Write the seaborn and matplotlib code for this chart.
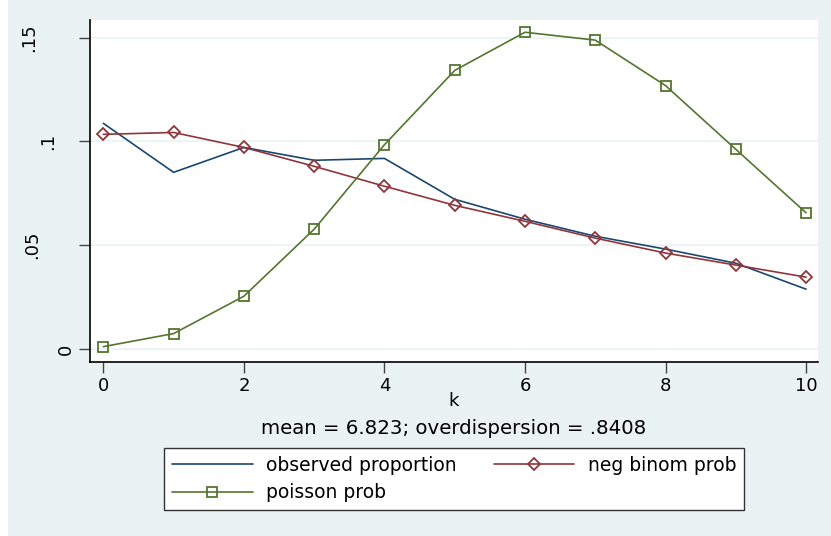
import numpy as np
import pandas as pd
import matplotlib
matplotlib.use('Agg')
import matplotlib.pyplot as plt
import matplotlib.transforms as mtransforms
import seaborn as sns

# %% data
k = list(range(11))
observed = [0.1087, 0.0851, 0.0971, 0.0909, 0.0918, 0.0721, 0.0625, 0.0543, 0.0481, 0.0413, 0.0288]
negbin = [0.1034, 0.1043, 0.0971, 0.0880, 0.0784, 0.0692, 0.0615, 0.0534, 0.0462, 0.0404, 0.0346]
poisson = [0.0011, 0.0074, 0.0254, 0.0577, 0.0984, 0.1342, 0.1526, 0.1488, 0.1269, 0.0962, 0.0656]
y_ticks = [0, 0.05, 0.1, 0.15]
y_labels = ['0', '.05', '.1', '.15']
x_ticks = [0, 2, 4, 6, 8, 10]
note = 'mean = 6.823; overdispersion = .8408'

df = pd.DataFrame({'k': k, 'observed proportion': observed,
                   'neg binom prob': negbin, 'poisson prob': poisson})

# %% plot
sns.set_style('white')
plt.rcParams['font.family'] = ['DejaVu Sans']
plt.rcParams['text.color'] = 'black'
plt.rcParams['xtick.color'] = 'black'
plt.rcParams['ytick.color'] = 'black'
plt.rcParams['axes.labelcolor'] = 'black'

bg = '#eaf2f3'
blue, red, green = '#1a476f', '#90353b', '#55752f'

fig = plt.figure(figsize=(8.31, 5.36), dpi=100, facecolor=bg)
# white strip at the left edge, like the stata export
fig.patches.append(plt.Rectangle((0, 0), 8 / 831, 1, transform=fig.transFigure,
                                 facecolor='white', edgecolor='none', zorder=-1))
ax = fig.add_axes([90 / 831, 1 - 362 / 536, (818 - 90) / 831, (362 - 20) / 536])
ax.set_facecolor('white')

sns.lineplot(data=df, x='k', y='observed proportion', color=blue, lw=1.2, ax=ax,
             label='observed proportion')
sns.lineplot(data=df, x='k', y='neg binom prob', color=red, lw=1.2, ax=ax,
             marker='D', markersize=6.5, markerfacecolor='none', markeredgecolor=red,
             markeredgewidth=1.3, label='neg binom prob')
sns.lineplot(data=df, x='k', y='poisson prob', color=green, lw=1.2, ax=ax,
             marker='s', markersize=7, markerfacecolor='none', markeredgecolor=green,
             markeredgewidth=1.3, label='poisson prob')

ax.set_xlim(-0.19, 10.17)
ax.set_ylim(-0.0063, 0.1585)
ax.set_yticks(y_ticks)
ax.set_yticklabels(y_labels, rotation=90, va='center', ha='center', fontsize=13)
ax.set_xticks(x_ticks)
ax.set_xticklabels([str(t) for t in x_ticks], fontsize=13)
ax.tick_params(axis='both', direction='out', length=8, width=1,
               left=True, bottom=True)
ax.tick_params(axis='both', color='#444444')
ax.tick_params(axis='x', pad=3)
ax.tick_params(axis='y', pad=0)
# stata places rotated labels unevenly; shift each one (pixels, left is negative)
label_shift = [-13, -47, -31, -50]
for lab, dx in zip(ax.get_yticklabels(), label_shift):
    lab.set_transform(lab.get_transform() +
                      mtransforms.ScaledTranslation(dx / 100, 0, fig.dpi_scale_trans))
ax.set_xlabel('k', fontsize=13, labelpad=-2)
ax.set_ylabel('')
for y in y_ticks:
    ax.axhline(y, color=bg, lw=1.2, zorder=0)
for side in ['top', 'right']:
    ax.spines[side].set_visible(False)
for side in ['left', 'bottom']:
    ax.spines[side].set_color('black')
    ax.spines[side].set_linewidth(1.2)

fig.text((90 + 818) / 2 / 831, 1 - 428 / 536, note, ha='center', va='center', fontsize=14.2)

h, l = ax.get_legend_handles_labels()
ax.get_legend().remove()
order = [0, 2, 1]
leg = fig.legend([h[i] for i in order], [l[i] for i in order], ncol=2,
                 loc='center', bbox_to_anchor=(454 / 831, 1 - 479 / 536),
                 fontsize=13.5, frameon=True, fancybox=False, edgecolor='#333333',
                 handlelength=4.3, columnspacing=2.0, labelspacing=0.45,
                 borderpad=0.4, handletextpad=0.7, borderaxespad=0)
leg.get_frame().set_linewidth(1.0)
leg.get_frame().set_facecolor('white')
leg.get_frame().set_alpha(1)

fig.savefig('out.png', dpi=100, facecolor=bg)
